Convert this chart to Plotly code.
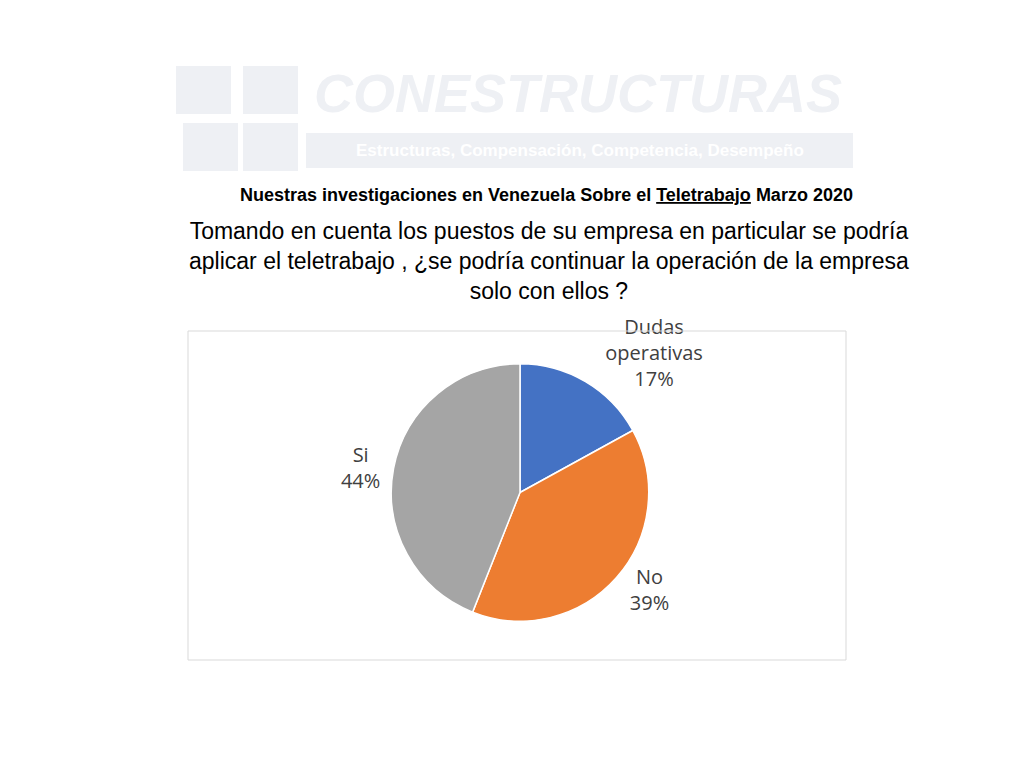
import plotly.graph_objects as go

labels = ["Dudas<br>operativas", "No", "Si"]
values = [17, 39, 44]
colors = ["#4472C4", "#ED7D31", "#A5A5A5"]

fig = go.Figure(go.Pie(
    labels=labels, values=values, sort=False, direction="clockwise", rotation=0,
    marker=dict(colors=colors, line=dict(color="white", width=1.5)),
    textinfo="label+percent", textposition="outside", texttemplate="%{label}<br>%{percent:.0%}",
    textfont=dict(family="Open Sans", size=20, color="#404040"),
    domain=dict(x=[0.3, 0.7], y=[0.19, 0.53]), showlegend=False,
))

shapes = [dict(type="rect", xref="paper", yref="paper", x0=180/1024, x1=838/1024,
               y0=1-652/757, y1=1-323/757, line=dict(color="#D9D9D9", width=1))]
for (x0, y0) in [(168, 58), (235, 58), (175, 115), (235, 115)]:
    shapes.append(dict(type="rect", xref="paper", yref="paper", x0=x0/1024, x1=(x0+55)/1024,
                       y0=1-(y0+48)/757, y1=1-y0/757, fillcolor="#EEF0F4", line=dict(width=0), layer="below"))
shapes.append(dict(type="rect", xref="paper", yref="paper", x0=298/1024, x1=845/1024,
                   y0=1-160/757, y1=1-125/757, fillcolor="#EEF0F4", line=dict(width=0), layer="below"))

ann = [
    dict(x=570/1024, y=1-85/757, text="<i><b>CONESTRUCTURAS</b></i>", font=dict(family="Liberation Sans", size=54, color="#EEF0F4")),
    dict(x=572/1024, y=1-142/757, text="<b>Estructuras, Compensación, Competencia, Desempeño</b>", font=dict(family="Liberation Sans", size=17, color="white")),
    dict(x=538/1024, y=1-187/757, text="<b>Nuestras investigaciones en Venezuela Sobre el <u>Teletrabajo</u> Marzo 2020</b>", font=dict(family="Liberation Sans", size=18, color="black")),
    dict(x=541/1024, y=1-253/757, text="Tomando en cuenta los puestos de su empresa en particular se podría<br>aplicar el teletrabajo , ¿se podría continuar la operación de la empresa<br>solo con ellos ?", font=dict(family="Liberation Sans", size=23, color="black")),
]
for a in ann:
    a.update(xref="paper", yref="paper", showarrow=False, xanchor="center", yanchor="middle")

fig.update_layout(width=1024, height=757, margin=dict(l=0, r=0, t=0, b=0),
                  paper_bgcolor="white", plot_bgcolor="white", shapes=shapes, annotations=ann)
fig.write_html("out.html")
